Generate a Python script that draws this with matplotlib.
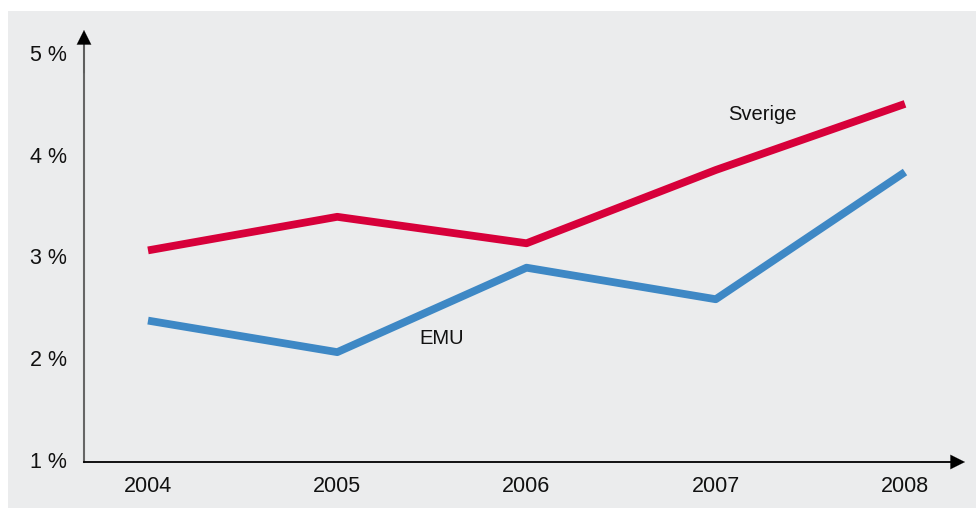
import matplotlib.pyplot as plt
from matplotlib.patches import Rectangle

# Data
years = [2004, 2005, 2006, 2007, 2008]
sverige = [3.06, 3.39, 3.13, 3.85, 4.50]
emu = [2.37, 2.06, 2.89, 2.58, 3.83]
y_ticks = [1, 2, 3, 4, 5]
y_labels = ['1 %', '2 %', '3 %', '4 %', '5 %']

plt.rcParams['font.family'] = ['Liberation Sans', 'DejaVu Sans']

W, H = 976, 509
fig = plt.figure(figsize=(W / 100, H / 100), dpi=100, facecolor='white')

# grey background panel
fig.patches.append(Rectangle((8 / W, 1 - 508 / H), (976 - 8) / W, (508 - 11) / H,
                             transform=fig.transFigure, facecolor='#ebeced',
                             edgecolor='none', zorder=-10))

# axes box: x from 84 to 965 px, y from 462 (bottom) to 30 (top)
ax = fig.add_axes([84 / W, 1 - 462 / H, (965 - 84) / W, (462 - 30) / H])
ax.set_facecolor('none')
ax.set_zorder(1)

px_year = (905 - 148) / 4
ax.set_xlim(2004 - (148 - 84) / px_year, 2008 + (965 - 905) / px_year)
px_unit = (460 - 53) / 4
ax.set_ylim(1 - 2 / px_unit, 1 + (460 - 30) / px_unit)

ax.plot(years, sverige, color='#d7003a', lw=5.6, solid_capstyle='butt', zorder=3)
ax.plot(years, emu, color='#3e88c5', lw=5.6, solid_capstyle='butt', zorder=3)

ax.text(762 / W, 1 - 114 / H, 'Sverige', transform=fig.transFigure,
        ha='center', va='center', fontsize=14.5, color='#111111')
ax.text(442 / W, 1 - 339 / H, 'EMU', transform=fig.transFigure,
        ha='center', va='center', fontsize=14.5, color='#111111')

for s in ax.spines.values():
    s.set_visible(False)

# axis lines with arrow heads
ax.plot([0, 0], [0, 0.97], transform=ax.transAxes, color='#666666', lw=1.5,
        clip_on=False)
ax.annotate('', xy=(0, 1), xytext=(0, 0.9), xycoords='axes fraction',
            arrowprops=dict(arrowstyle='-|>', color='black', lw=0.1,
                            mutation_scale=26, shrinkA=0, shrinkB=0))
ax.plot([0, 0.99], [0, 0], transform=ax.transAxes, color='black', lw=1.3,
        clip_on=False)
ax.annotate('', xy=(1, 0), xytext=(0.95, 0), xycoords='axes fraction',
            arrowprops=dict(arrowstyle='-|>', color='black', lw=0.1,
                            mutation_scale=26, shrinkA=0, shrinkB=0))

ax.set_xticks(years)
ax.set_xticklabels([str(y) for y in years])
ax.set_yticks(y_ticks)
ax.set_yticklabels(y_labels)
ax.tick_params(axis='both', length=0, labelsize=15.5, colors='#111111')
ax.tick_params(axis='x', pad=10)
ax.tick_params(axis='y', pad=12)

fig.savefig('out.png', dpi=100, facecolor='white')
